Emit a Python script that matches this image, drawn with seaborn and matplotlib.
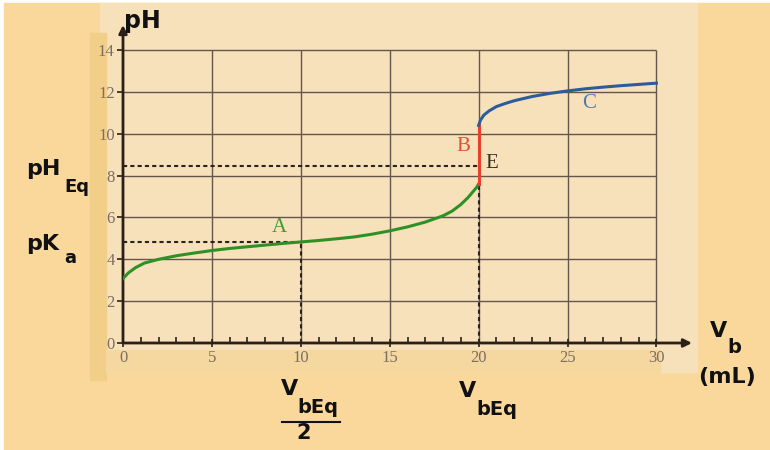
import matplotlib
matplotlib.use("Agg")
import matplotlib.pyplot as plt
import seaborn as sns
from matplotlib.patches import Rectangle
from matplotlib.lines import Line2D

# titration curve
vb_acid = [0, 0.3, 0.7, 1.2, 2, 3, 4, 5, 6, 7, 8, 9, 10, 11, 12, 13, 14, 15,
           16, 17, 18, 18.5, 19, 19.4, 19.7, 19.9, 20]
ph_acid = [3.08, 3.35, 3.6, 3.82, 4.0, 4.17, 4.3, 4.42, 4.52, 4.6, 4.68, 4.76,
           4.83, 4.9, 4.98, 5.07, 5.2, 5.36, 5.55, 5.78, 6.08, 6.3, 6.62, 6.95,
           7.25, 7.45, 7.6]
vb_jump = [20, 20]
ph_jump = [7.6, 10.4]
vb_base = [20, 20.1, 20.3, 20.6, 21, 21.5, 22, 23, 24, 25, 26, 27, 28, 29, 30]
ph_base = [10.4, 10.65, 10.9, 11.1, 11.3, 11.45, 11.58, 11.78, 11.93, 12.05,
           12.15, 12.23, 12.3, 12.36, 12.42]

pka = 4.83
ph_eq = 8.45
vb_eq = 20
x_ticks = [0, 5, 10, 15, 20, 25, 30]
y_ticks = [0, 2, 4, 6, 8, 10, 12, 14]

W, H = 770, 450
fig = plt.figure(figsize=(7.7, 4.5), dpi=100)
fig.patch.set_facecolor("white")


def px(x, y):
    return x / W, 1 - y / H


def label(x, y, s, size, sub=None, sx=None, sy=None, subsize=13):
    # bold sans label with a separate, lowered subscript
    fig.text(*px(x, y), s, fontsize=size, fontweight="bold", family="DejaVu Sans",
             color="#111111", ha="left", va="baseline")
    if sub:
        fig.text(*px(sx, sy), sub, fontsize=subsize, fontweight="bold",
                 family="DejaVu Sans", color="#111111", ha="left", va="baseline")


# page background (scanned paper look)
fig.patches.append(Rectangle((4 / W, 0), 1, 1 - 3 / H, transform=fig.transFigure,
                             color="#FAD89C", zorder=-20))
fig.patches.append(Rectangle(px(100, 372), (697 - 100) / W, (372 - 3) / H,
                             transform=fig.transFigure, color="#F6E1BB", zorder=-19))
fig.patches.append(Rectangle(px(90, 380), 16 / W, (380 - 33) / H,
                             transform=fig.transFigure, color="#F2CF88", zorder=-18))
fig.patches.append(Rectangle(px(106, 372), (660 - 106) / W, 22 / H,
                             transform=fig.transFigure, color="#F4D8A0", zorder=-18))

ax = fig.add_axes([123 / W, (H - 343) / H, 569 / W, 318 / H])
ax.set_facecolor("none")
ax.set_xlim(0, 32)
ax.set_ylim(0, 15.2)
for s in ax.spines.values():
    s.set_visible(False)

grid_c = "#65564b"
ax.hlines(y_ticks[1:], 0, 30, color=grid_c, lw=1, zorder=1)
ax.vlines(x_ticks[1:], 0, 14, color=grid_c, lw=1, zorder=1)

# axes with arrows
arrow = dict(arrowstyle="-|>", lw=2, color="#2a2018", mutation_scale=12,
             shrinkA=0, shrinkB=0)
ax.annotate("", xy=(32, 0), xytext=(0, 0), arrowprops=arrow, zorder=3)
ax.annotate("", xy=(0, 15.2), xytext=(0, 0), arrowprops=arrow, zorder=3)

# dotted guide lines
dot = dict(color="#2a2420", lw=1.5, ls=(0, (2, 1.5)), zorder=2)
ax.plot([0, 10], [pka, pka], **dot)
ax.plot([10, 10], [0, pka], **dot)
ax.plot([0, vb_eq], [ph_eq, ph_eq], **dot)
ax.plot([vb_eq, vb_eq], [0, 7.6], **dot)

sns.lineplot(x=vb_acid, y=ph_acid, ax=ax, color="#2E9126", lw=2.2,
             estimator=None, sort=False, zorder=4)
sns.lineplot(x=vb_jump, y=ph_jump, ax=ax, color="#E8402A", lw=2.2,
             estimator=None, sort=False, zorder=4)
sns.lineplot(x=vb_base, y=ph_base, ax=ax, color="#2C5C9C", lw=2.2,
             estimator=None, sort=False, zorder=4)

tick_c = "#7d6e60"
ax.set_xticks(x_ticks)
ax.set_xticks(range(0, 31), minor=True)
ax.set_yticks(y_ticks)
ax.tick_params(axis="x", which="major", direction="inout", length=6, width=1.2,
               color="#2a2018", labelcolor=tick_c, pad=2)
ax.tick_params(axis="x", which="minor", direction="in", length=4, width=1.2,
               color="#2a2018")
ax.tick_params(axis="y", which="major", direction="out", length=4, width=1.2,
               color="#2a2018", labelcolor=tick_c, pad=2)
for lab in ax.get_xticklabels() + ax.get_yticklabels():
    lab.set_family("Liberation Serif")
    lab.set_fontsize(12)

# curve letters
serif = dict(family="Liberation Serif", fontsize=15, ha="center", va="center")
ax.text(8.78, 5.5, "A", color="#3E9A2E", **serif)
ax.text(19.13, 9.38, "B", color="#E2502E", **serif)
ax.text(20.75, 8.56, "E", color="#3a3020", **serif)
ax.text(26.2, 11.43, "C", color="#4A7AB2", **serif)

# bold axis annotations
label(124, 28, "pH", 17)
label(26, 175, "pH", 16, "Eq", 64, 192)
label(26, 250, "pK", 16, "a", 64, 263)
label(281, 395, "V", 16, "bEq", 297, 413, 14)
fig.add_artist(Line2D([282 / W, 340 / W], [1 - 422 / H, 1 - 422 / H],
                      color="#111111", lw=1.5))
fig.text(*px(304, 439), "2", fontweight="bold", family="DejaVu Sans",
         fontsize=15, color="#111111", ha="center", va="baseline")
label(459, 397, "V", 16, "bEq", 476, 415, 14)
label(710, 337, "V", 16, "b", 727, 353, 14)
fig.text(*px(727, 383), "(mL)", fontweight="bold", family="DejaVu Sans",
         fontsize=16, color="#111111", ha="center", va="baseline")

fig.savefig("out.png", dpi=100, facecolor=fig.get_facecolor())
